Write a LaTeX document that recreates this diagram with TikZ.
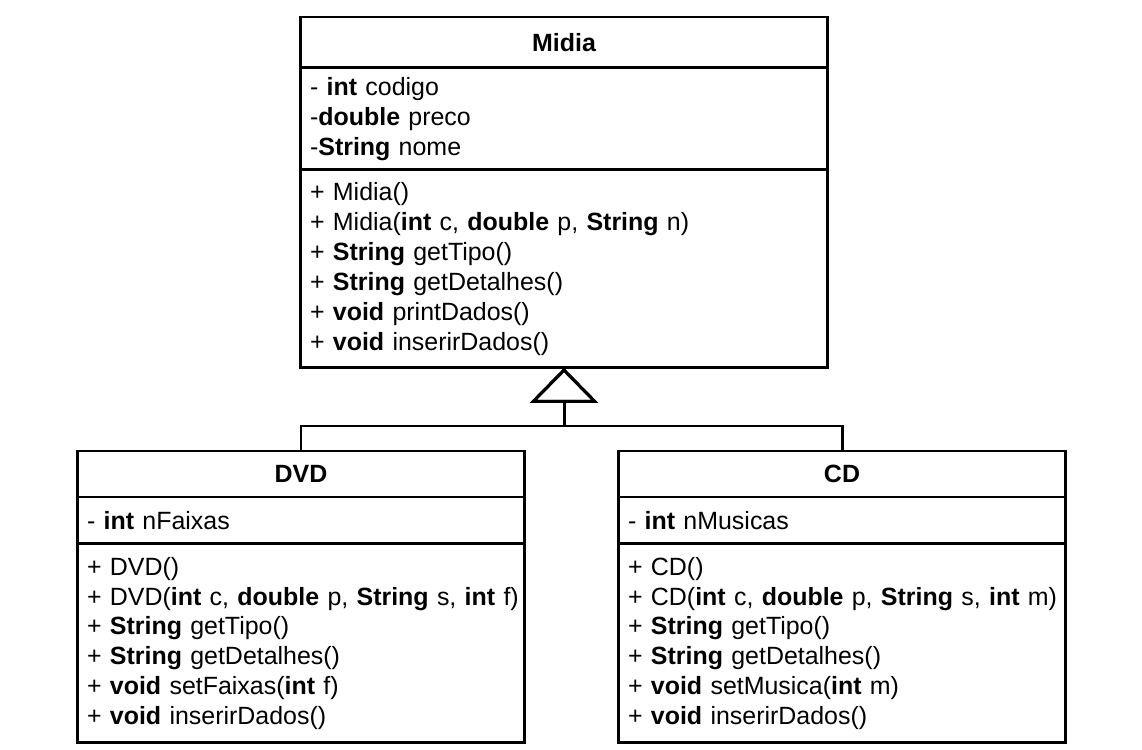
\documentclass[tikz,border=0pt]{standalone}
\usepackage{fontspec}
\setmainfont{Liberation Sans}
\usetikzlibrary{arrows.meta,positioning}

\begin{document}
\begin{tikzpicture}[x=0.02cm,y=-0.02cm,
  box/.style={draw,line width=1.7pt,anchor=north,outer sep=0pt,inner xsep=0.2cm,inner ysep=0pt,font=\fontsize{14.2}{17}\selectfont},
  head/.style={box,font=\fontsize{14.2}{17}\selectfont\bfseries,align=center},
  sect/.style={box,align=left},
  inherit/.style={line width=1.7pt,-{Triangle[open,length=0.7cm,width=1.36cm]}}]
 \useasboundingbox (0,0) rectangle (1142,750);
 % superclass
 \node[head,minimum width=10.56cm,minimum height=1.02cm] (midia) at (564,17) {Midia};
 \node[sect,text width=10.16cm,minimum height=2.04cm,below=0pt of midia] (midiaA)
   {- \textbf{int} codigo\\-\textbf{double} preco\\-\textbf{String} nome};
 \node[sect,text width=10.16cm,minimum height=3.96cm,below=0pt of midiaA] (midiaM)
   {+ Midia()\\\mbox{+ Midia(\textbf{int} c, \textbf{double} p, \textbf{String} n)}\\+ \textbf{String} getTipo()\\+ \textbf{String} getDetalhes()\\+ \textbf{void} printDados()\\+ \textbf{void} inserirDados()};
 % subclass DVD
 \node[head,minimum width=8.96cm,minimum height=0.92cm] (dvd) at (301,451) {DVD};
 \node[sect,text width=8.56cm,minimum height=0.94cm,below=0pt of dvd] (dvdA)
   {- \textbf{int} nFaixas};
 \node[sect,text width=8.56cm,minimum height=3.98cm,below=0pt of dvdA] (dvdM)
   {+ DVD()\\\mbox{+ DVD(\textbf{int} c, \textbf{double} p, \textbf{String} s, \textbf{int} f)}\\+ \textbf{String} getTipo()\\+ \textbf{String} getDetalhes()\\+ \textbf{void} setFaixas(\textbf{int} f)\\+ \textbf{void} inserirDados()};
 % subclass CD
 \node[head,minimum width=8.96cm,minimum height=0.92cm] (cd) at (842,451) {CD};
 \node[sect,text width=8.56cm,minimum height=0.94cm,below=0pt of cd] (cdA)
   {- \textbf{int} nMusicas};
 \node[sect,text width=8.56cm,minimum height=3.98cm,below=0pt of cdA] (cdM)
   {+ CD()\\\mbox{+ CD(\textbf{int} c, \textbf{double} p, \textbf{String} s, \textbf{int} m)}\\+ \textbf{String} getTipo()\\+ \textbf{String} getDetalhes()\\+ \textbf{void} setMusica(\textbf{int} m)\\+ \textbf{void} inserirDados()};
 % generalization
 \draw[inherit] (dvd.north) -- ++(0,-25) -| (midiaM.south);
 \draw[inherit] (cd.north) -- ++(0,-25) -| (midiaM.south);
\end{tikzpicture}
\end{document}
